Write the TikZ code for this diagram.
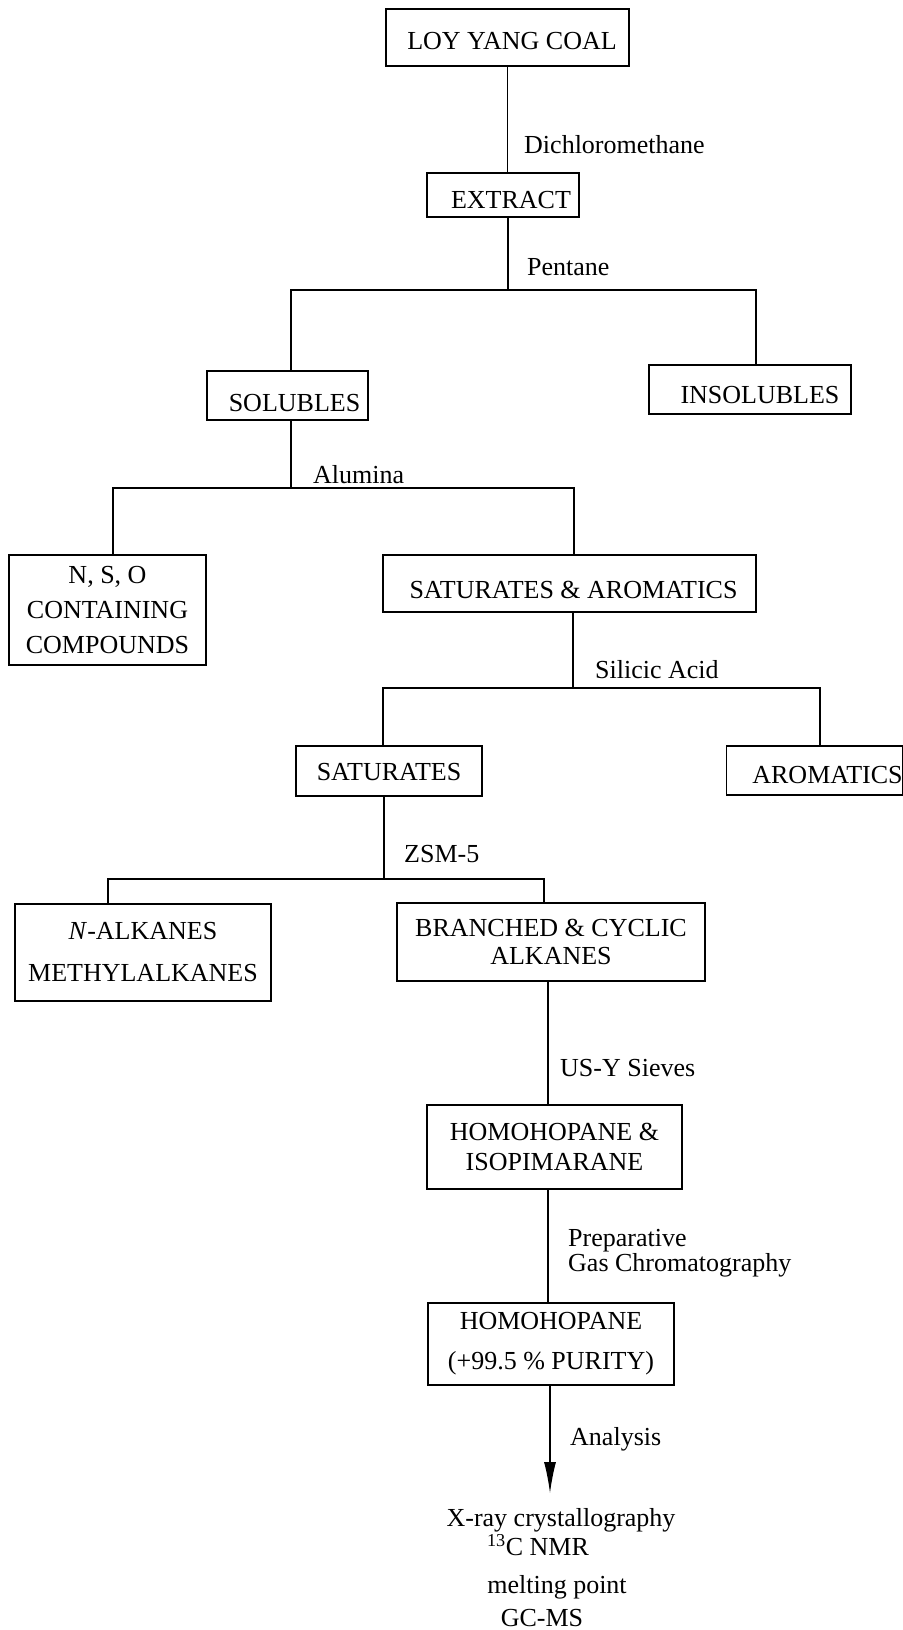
\documentclass[tikz,border=0pt]{standalone}
\usepackage{fontspec}
\setmainfont{Liberation Serif}
\usetikzlibrary{arrows.meta}
\begin{document}
\begin{tikzpicture}[x=1pt,y=-1pt,
  box/.style={draw,line width=1.3pt,inner sep=0pt,align=center,font=\fontsize{26}{30}\selectfont},
  one/.style={text depth=0pt,text height=#1},
  lab/.style={anchor=west,inner sep=0pt,text depth=0pt,text height=17pt,font=\fontsize{26}{30}\selectfont},
  res/.style={inner sep=0pt,text depth=0pt,text height=17pt,font=\fontsize{26}{30}\selectfont},
  conn/.style={line width=1.2pt}]
\fill[white] (0,0) rectangle (902,1630);
\useasboundingbox (0,0) rectangle (902,1630);

% boxes
\node[box,one=24pt,minimum width=243pt,minimum height=57pt] (loy) at (507.5,37.5) {\hspace*{9pt}LOY YANG COAL};
\node[box,one=27pt,minimum width=152pt,minimum height=44pt] (ext) at (503,195) {\hspace*{16pt}EXTRACT};
\node[box,one=32pt,minimum width=161pt,minimum height=49pt] (sol) at (287.5,395.5) {\hspace*{14pt}SOLUBLES};
\node[box,one=28pt,minimum width=202pt,minimum height=49pt] (insol) at (750,389.5) {\hspace*{20pt}INSOLUBLES};
\node[box,font=\fontsize{26}{35}\selectfont,minimum width=197pt,minimum height=110pt] (nso) at (107.5,610) {N, S, O\\CONTAINING\\COMPOUNDS};
\node[box,one=29pt,minimum width=373pt,minimum height=57pt] (satar) at (569.5,583.5) {\hspace*{8pt}SATURATES \& AROMATICS};
\node[box,one=19pt,minimum width=186pt,minimum height=50pt] (sat) at (389,771) {SATURATES};
\node[box,one=26pt,minimum width=173pt,minimum height=49pt] (arom) at (814.5,770.5) {\hspace*{26pt}AROMATICS};
\node[box,font=\fontsize{26}{42}\selectfont,minimum width=256pt,minimum height=97pt] (nalk) at (143,952.5) {\textit{N}-ALKANES\\METHYLALKANES};
\node[box,font=\fontsize{26}{28}\selectfont,minimum width=308pt,minimum height=78pt] (br) at (551,942) {BRANCHED \& CYCLIC\\ALKANES};
\node[box,font=\fontsize{26}{30}\selectfont,minimum width=255pt,minimum height=84pt] (hi) at (554.5,1147) {HOMOHOPANE \&\\ISOPIMARANE};
\node[box,font=\fontsize{26}{40}\selectfont,minimum width=246pt,minimum height=82pt] (hh) at (551,1344) {HOMOHOPANE\\(+99.5 \% PURITY)};

% junction coordinates
\coordinate (pM) at (508,290);
\coordinate (pL) at (291,290);
\coordinate (pR) at (756,290);
\coordinate (aM) at (291,488);
\coordinate (aL) at (113,488);
\coordinate (aR) at (574,488);
\coordinate (sM) at (573,688);
\coordinate (sL) at (383,688);
\coordinate (sR) at (820,688);
\coordinate (zM) at (384,879);
\coordinate (zL) at (108,879);
\coordinate (zR) at (544,879);
\coordinate (u) at (548,1040);
\coordinate (tip) at (550,1493);

% connectors
\draw[conn] (loy.south) -- (loy.south |- ext.north);
\draw[conn] (ext.south -| pM) -- (pM);
\draw[conn] (sol.north -| pL) -- (pL) -- (pR) -- (insol.north -| pR);
\draw[conn] (sol.south -| aM) -- (aM);
\draw[conn] (nso.north -| aL) -- (aL) -- (aR) -- (satar.north -| aR);
\draw[conn] (satar.south -| sM) -- (sM);
\draw[conn] (sat.north -| sL) -- (sL) -- (sR) -- (arom.north -| sR);
\draw[conn] (sat.south -| zM) -- (zM);
\draw[conn] (nalk.north -| zL) -- (zL) -- (zR) -- (br.north -| zR);
\draw[conn] (br.south -| u) -- (hi.north -| u);
\draw[conn] (hi.south -| u) -- (hh.north -| u);
\draw[conn,-{Latex[length=31pt,width=12pt]}] (hh.south -| tip) -- (tip);

% labels
\node[lab] (l1) at (524,145) {Dichloromethane};
\node[lab] (l2) at (527,267) {Pentane};
\node[lab] (l3) at (313,475) {Alumina};
\node[lab] (l4) at (595,670) {Silicic Acid};
\node[lab] (l5) at (404,854) {ZSM-5};
\node[lab] (l6) at (560,1068) {US-Y Sieves};
\node[lab] (l7) at (568,1238) {Preparative};
\node[lab] (l8) at (568,1263) {Gas Chromatography};
\node[lab] (l9) at (570,1437) {Analysis};

% results
\node[res] (r1) at (561,1518) {X-ray crystallography};
\node[res] (r2) at (538,1547) {\textsuperscript{13}C NMR};
\node[res] (r3) at (557,1585) {melting point};
\node[res] (r4) at (542,1618) {GC-MS};
\end{tikzpicture}
\end{document}
